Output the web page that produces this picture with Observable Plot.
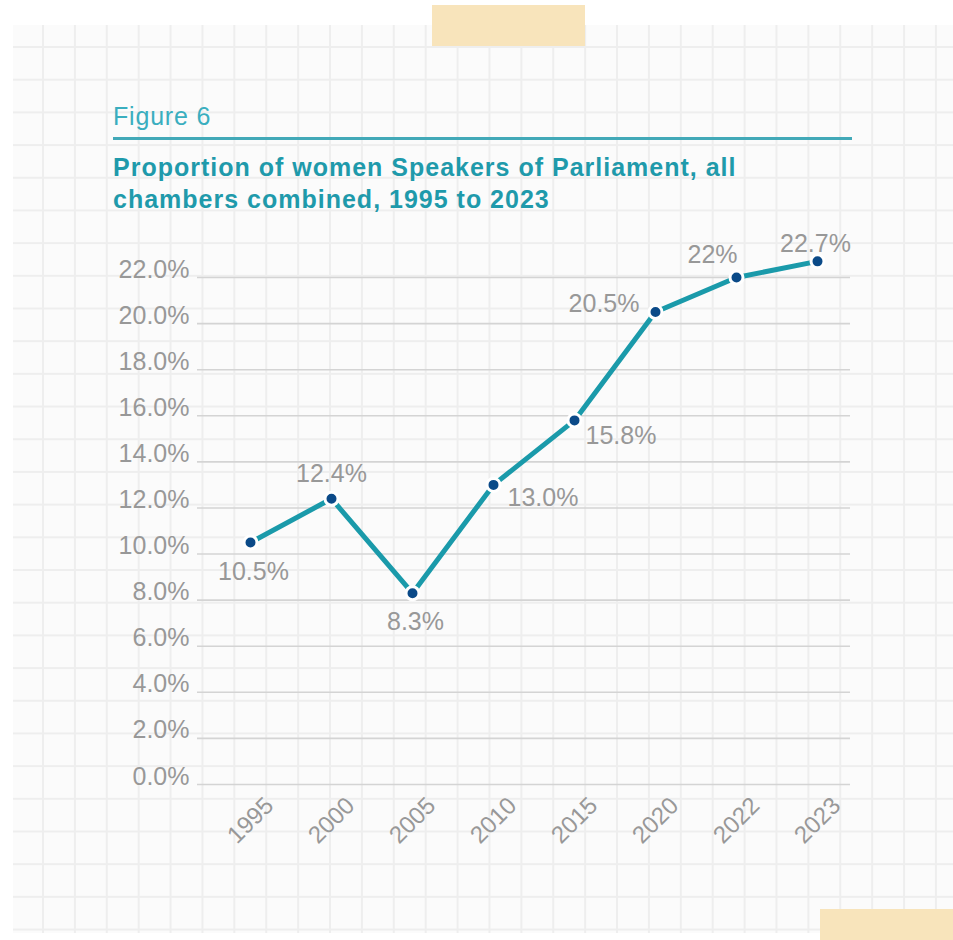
<!DOCTYPE html>
<html>
<head>
<meta charset="utf-8">
<script src="https://cdn.jsdelivr.net/npm/d3@7"></script>
<script src="https://cdn.jsdelivr.net/npm/@observablehq/plot@0.6"></script>
<style>
  html, body { margin: 0; padding: 0; background: #ffffff; }
  #page { position: relative; width: 953px; height: 940px; overflow: hidden; font-family: "Liberation Sans", Arial, sans-serif; }
  #paper {
    position: absolute; left: 13px; top: 25px; width: 940px; height: 908px;
    background-color: #fbfbfb;
    background-image:
      linear-gradient(to right, #eeeeee 0 2px, transparent 2px),
      linear-gradient(to bottom, #eeeeee 0 2px, transparent 2px);
    background-size: 31.9px 32.7px;
    background-position: 29px 21px;
  }
  .tape { position: absolute; background: #f8e4bb; }
  #fig { position: absolute; left: 113px; top: 104px; font-size: 25px; line-height: 25px; letter-spacing: 0.8px; color: #3aaebf; }
  #rule { position: absolute; left: 113px; top: 137px; width: 739px; height: 3px; background: #42a9b8; }
  #title { position: absolute; left: 113px; top: 151px; font-size: 25px; line-height: 32px; letter-spacing: 1px; font-weight: bold; color: #1f9aab; }
  #chart { position: absolute; left: 0; top: 230px; }
  #chart svg text.tick { letter-spacing: 1.3px; }
</style>
</head>
<body>
<div id="page">
  <div id="paper"></div>
  <div class="tape" style="left:432px;top:5px;width:153px;height:41px;"></div>
  <div class="tape" style="left:820px;top:909px;width:133px;height:31px;"></div>
  <div id="fig">Figure 6</div>
  <div id="rule"></div>
  <div id="title">Proportion of women Speakers of Parliament, all<br>chambers combined, 1995 to 2023</div>
  <div id="chart"></div>
</div>
<script>
// ---- data ----
const years = ["1995", "2000", "2005", "2010", "2015", "2020", "2022", "2023"];
const shares = [10.5, 12.4, 8.3, 13.0, 15.8, 20.5, 22.0, 22.7];
const shareLabels = ["10.5%", "12.4%", "8.3%", "13.0%", "15.8%", "20.5%", "22%", "22.7%"];
const yTicks = [0, 2, 4, 6, 8, 10, 12, 14, 16, 18, 20, 22];

const data = years.map((year, i) => ({year, share: shares[i], label: shareLabels[i]}));
const pick = (ys) => data.filter(d => ys.includes(d.year));

const labelFont = 25;
const gray = "#989898";

const chart = Plot.plot({
  width: 953,
  height: 640,
  marginLeft: 197,
  marginRight: 103,
  marginTop: 47,
  marginBottom: 86,
  style: {background: "transparent", fontFamily: "'Liberation Sans', Arial, sans-serif", overflow: "visible"},
  x: {type: "point", domain: years, range: [250, 817], padding: 0, axis: null},
  y: {domain: [0, 22], axis: null},
  marks: [
    Plot.ruleY(yTicks, {stroke: "#d4d4d4", strokeWidth: 1.6}),
    Plot.text(yTicks, {
      y: d => d, frameAnchor: "left", textAnchor: "end", dx: -8, dy: -8,
      text: d => d.toFixed(1) + "%", fontSize: labelFont, fill: gray, className: "tick"
    }),
    Plot.text(years, {
      x: d => d, frameAnchor: "bottom", lineAnchor: "middle", textAnchor: "middle",
      dy: 36, rotate: -45, text: d => d, fontSize: 24, fill: gray, className: "tick"
    }),
    Plot.line(data, {x: "year", y: "share", stroke: "#1a9aaa", strokeWidth: 5}),
    Plot.dot(data, {x: "year", y: "share", r: 6.5, fill: "#0b4a88", stroke: "#ffffff", strokeWidth: 3}),
    // value labels
    Plot.text(pick(["1995", "2005"]), {x: "year", y: "share", text: "label", dy: 29, dx: 3, fontSize: labelFont, fill: gray, className: "tick"}),
    Plot.text(pick(["2000"]), {x: "year", y: "share", text: "label", dy: -25, fontSize: labelFont, fill: gray, className: "tick"}),
    Plot.text(pick(["2023"]), {x: "year", y: "share", text: "label", dy: -17, dx: -2, fontSize: labelFont, fill: gray, className: "tick"}),
    Plot.text(pick(["2022"]), {x: "year", y: "share", text: "label", dy: -23, dx: -24, fontSize: labelFont, fill: gray, className: "tick"}),
    Plot.text(pick(["2010"]), {x: "year", y: "share", text: "label", textAnchor: "start", dy: 13, dx: 14, fontSize: labelFont, fill: gray, className: "tick"}),
    Plot.text(pick(["2015"]), {x: "year", y: "share", text: "label", textAnchor: "start", dy: 16, dx: 11, fontSize: labelFont, fill: gray, className: "tick"}),
    Plot.text(pick(["2020"]), {x: "year", y: "share", text: "label", textAnchor: "end", dy: -8, dx: -16, fontSize: labelFont, fill: gray, className: "tick"})
  ]
});
document.getElementById("chart").appendChild(chart);
</script>
</body>
</html>
